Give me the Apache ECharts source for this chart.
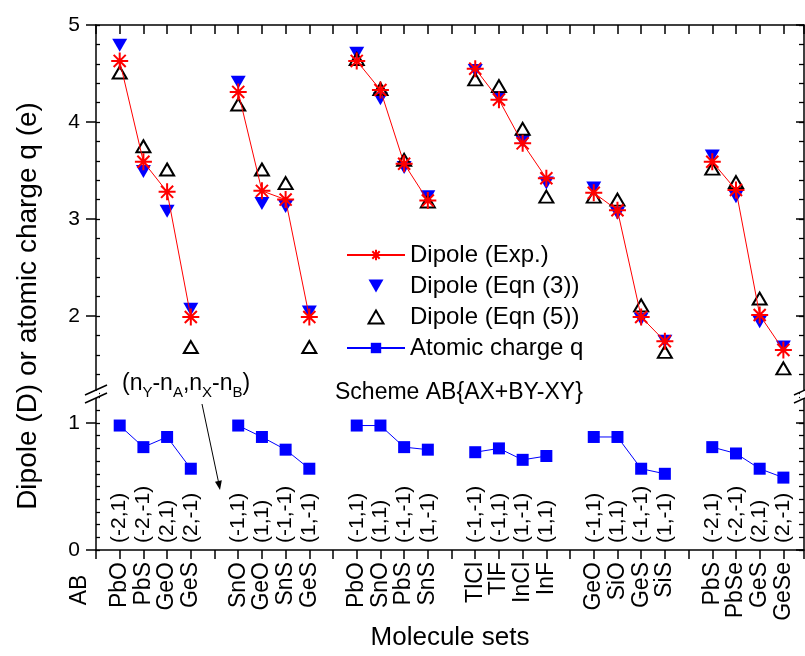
<!DOCTYPE html>
<html>
<head>
<meta charset="utf-8">
<title>Dipole and atomic charge</title>
<script src="https://cdn.jsdelivr.net/npm/echarts@6/dist/echarts.min.js"></script>
<style>
  html, body { margin: 0; padding: 0; background: #fff; }
  #chart { width: 805px; height: 656px; }
</style>
</head>
<body>
<div id="chart"></div>
<script>
// molecule sets, four molecules per set (one empty slot between sets)
const moleculeSets = [
  ['PbO', 'PbS', 'GeO', 'GeS'],
  ['SnO', 'GeO', 'SnS', 'GeS'],
  ['PbO', 'SnO', 'PbS', 'SnS'],
  ['TlCl', 'TlF', 'InCl', 'InF'],
  ['GeO', 'SiO', 'GeS', 'SiS'],
  ['PbS', 'PbSe', 'GeS', 'GeSe']
]
// (nY-nA, nX-nB)
const nLabels = [
  ['(-2,1)', '(-2,-1)', '(2,1)', '(2,-1)'],
  ['(-1,1)', '(1,1)', '(-1,-1)', '(1,-1)'],
  ['(-1,1)', '(1,1)', '(-1,-1)', '(1,-1)'],
  ['(-1,-1)', '(-1,1)', '(1,-1)', '(1,1)'],
  ['(-1,1)', '(1,1)', '(-1,-1)', '(1,-1)'],
  ['(-2,1)', '(-2,-1)', '(2,1)', '(2,-1)']
]
const dipoleExp = [
  [4.63, 3.59, 3.28, 1.99],
  [4.31, 3.29, 3.20, 1.99],
  [4.63, 4.33, 3.57, 3.19],
  [4.55, 4.23, 3.78, 3.42],
  [3.27, 3.09, 1.99, 1.74],
  [3.59, 3.30, 2.01, 1.65]
]
const dipoleEqn3 = [
  [4.79, 3.49, 3.08, 2.07],
  [4.41, 3.16, 3.13, 2.04],
  [4.71, 4.24, 3.53, 3.23],
  [4.53, 4.25, 3.80, 3.37],
  [3.32, 3.06, 1.97, 1.74],
  [3.65, 3.23, 1.94, 1.68]
]
const dipoleEqn5 = [
  [4.51, 3.75, 3.51, 1.68],
  [4.18, 3.51, 3.37, 1.68],
  [4.65, 4.34, 3.61, 3.18],
  [4.44, 4.37, 3.93, 3.23],
  [3.23, 3.20, 2.11, 1.63],
  [3.52, 3.38, 2.18, 1.46]
]
const atomicCharge = [
  [0.98, 0.81, 0.89, 0.64],
  [0.98, 0.89, 0.79, 0.64],
  [0.98, 0.98, 0.81, 0.79],
  [0.77, 0.80, 0.71, 0.74],
  [0.89, 0.89, 0.64, 0.60],
  [0.81, 0.76, 0.64, 0.57]
]
const upperMajorTicks = [2, 3, 4, 5]
const lowerMajorTicks = [0, 1]

const FONT = '"Liberation Sans", Arial, sans-serif'

// slot index on the x axis -> label
const slotNames = []
const slotN = []
moleculeSets.forEach((set, g) => {
  set.forEach((m, i) => {
    slotNames[g * 5 + 1 + i] = m
    slotN[g * 5 + 1 + i] = nLabels[g][i]
  })
})

// points per set, with a gap after each set so lines only join inside a set
function toPoints (values) {
  const pts = []
  values.forEach((set, g) => {
    set.forEach((v, i) => pts.push([g * 5 + 1 + i, v]))
    pts.push([g * 5 + 5, '-'])
  })
  return pts
}

const black = { color: '#000', width: 1.5 }
const xRange = { type: 'value', min: 0, max: 29.87, interval: 1, splitLine: { show: false } }

function minorAxis (grid, side, min, max, interval, len) {
  return {
    type: 'value', gridIndex: grid, position: side, min: min, max: max, interval: interval,
    axisLine: { show: true, lineStyle: black },
    axisTick: { show: true, inside: true, length: len, lineStyle: { color: '#000', width: 1.3 } },
    axisLabel: { show: false },
    splitLine: { show: false }
  }
}
function majorAxis (grid, side, min, max, ticks, showLabel) {
  return {
    type: 'value', gridIndex: grid, position: side, min: min, max: max,
    axisLine: { show: false },
    axisTick: { show: true, customValues: ticks, inside: side === 'right', length: side === 'right' ? 8 : 10, lineStyle: { color: '#000', width: 1.5 } },
    axisLabel: { show: showLabel, customValues: ticks, color: '#000', fontSize: 21, fontFamily: FONT, margin: 16 },
    splitLine: { show: false }
  }
}

const starPath = 'path://M0,-10L0,10M-10,0L10,0M-7.1,-7.1L7.1,7.1M-7.1,7.1L7.1,-7.1'
const downTriangle = 'path://M0,0L10,0L5,8.7Z'
const upTriangle = 'path://M5,0L10,8.7L0,8.7Z'

const chart = echarts.init(document.getElementById('chart'))
chart.setOption({
  animation: false,
  backgroundColor: '#fff',
  textStyle: { fontFamily: FONT },
  grid: [
    { left: 96, right: 1, top: 25, bottom: 262.4 },
    { left: 96, right: 1, top: 397.6, bottom: 106 }
  ],
  xAxis: [
    Object.assign({}, xRange, {
      gridIndex: 0, position: 'top',
      axisLine: { show: true, lineStyle: black },
      axisTick: { show: true, inside: true, length: 9, lineStyle: { color: '#000', width: 1.5 } },
      axisLabel: { show: false }
    }),
    Object.assign({}, xRange, {
      gridIndex: 1, position: 'bottom',
      axisLine: { show: true, lineStyle: black },
      axisTick: { show: true, inside: false, length: 9, lineStyle: { color: '#000', width: 1.5 } },
      axisLabel: {
        show: true, rotate: 90, margin: 12, color: '#000', fontSize: 23, fontFamily: FONT,
        formatter: v => slotNames[v] || ''
      },
      name: 'Molecule sets',
      nameLocation: 'middle',
      nameGap: 74,
      nameTextStyle: { color: '#000', fontSize: 26, fontFamily: FONT }
    }),
    Object.assign({}, xRange, {
      gridIndex: 1, position: 'bottom',
      axisLine: { show: false },
      axisTick: { show: false },
      axisLabel: {
        show: true, inside: true, rotate: 90, margin: 7, color: '#000', fontSize: 21, fontFamily: FONT,
        formatter: v => slotN[v] || ''
      }
    })
  ],
  yAxis: [
    minorAxis(0, 'left', 1.2, 5, 0.2, 4),
    majorAxis(0, 'left', 1.2, 5, upperMajorTicks, true),
    minorAxis(0, 'right', 1.2, 5, 0.2, 5),
    majorAxis(0, 'right', 1.2, 5, upperMajorTicks, false),
    minorAxis(1, 'left', 0, 1.2, 0.1, 4),
    majorAxis(1, 'left', 0, 1.2, lowerMajorTicks, true),
    minorAxis(1, 'right', 0, 1.2, 0.1, 5),
    majorAxis(1, 'right', 0, 1.2, lowerMajorTicks, false)
  ],
  legend: {
    orient: 'vertical',
    left: 346,
    top: 243,
    padding: 0,
    itemWidth: 58,
    itemHeight: 13,
    itemGap: 7,
    selectedMode: false,
    textStyle: { color: '#000', fontSize: 24, fontFamily: FONT, lineHeight: 24 },
    data: ['Dipole (Exp.)', 'Dipole (Eqn (3))', 'Dipole (Eqn (5))', 'Atomic charge q']
  },
  series: [
    {
      name: 'Dipole (Exp.)',
      type: 'line',
      xAxisIndex: 0,
      yAxisIndex: 0,
      data: toPoints(dipoleExp),
      symbol: starPath,
      symbolSize: 17,
      lineStyle: { color: '#ff0000', width: 1 },
      itemStyle: { color: 'rgba(255,0,0,0)', borderColor: '#ff0000', borderWidth: 2 }
    },
    {
      name: 'Dipole (Eqn (3))',
      type: 'scatter',
      xAxisIndex: 0,
      yAxisIndex: 0,
      data: toPoints(dipoleEqn3),
      symbol: downTriangle,
      symbolSize: [15, 13],
      itemStyle: { color: '#0000ff', opacity: 1 }
    },
    {
      name: 'Dipole (Eqn (5))',
      type: 'scatter',
      xAxisIndex: 0,
      yAxisIndex: 0,
      data: toPoints(dipoleEqn5),
      symbol: upTriangle,
      symbolSize: [14, 12],
      itemStyle: { color: 'rgba(255,255,255,0)', borderColor: '#000', borderWidth: 2, opacity: 1 }
    },
    {
      name: 'Atomic charge q',
      type: 'line',
      xAxisIndex: 1,
      yAxisIndex: 4,
      data: toPoints(atomicCharge),
      symbol: 'rect',
      symbolSize: 12,
      lineStyle: { color: '#0000ff', width: 1 },
      itemStyle: { color: '#0000ff' }
    }
  ],
  graphic: [
    {
      type: 'text', x: 28, y: 306, rotation: Math.PI / 2,
      style: { text: 'Dipole (D) or atomic charge q (e)', fill: '#000', font: '28px ' + FONT, align: 'center', verticalAlign: 'middle' }
    },
    {
      type: 'text', x: 80, y: 590, rotation: Math.PI / 2,
      style: { text: 'AB', fill: '#000', font: '23px ' + FONT, align: 'center', verticalAlign: 'middle' }
    },
    {
      type: 'text', x: 335, y: 393,
      style: { text: 'Scheme AB{AX+BY-XY}', fill: '#000', font: '23px ' + FONT, align: 'left', verticalAlign: 'middle' }
    },
    {
      type: 'text', x: 122, y: 384,
      style: {
        text: '(n{s|Y}-n{s|A},n{s|X}-n{s|B})',
        fill: '#000', fontSize: 23, fontFamily: FONT, lineHeight: 32,
        align: 'left', verticalAlign: 'middle',
        rich: { s: { fontSize: 15, fontFamily: FONT, lineHeight: 14, verticalAlign: 'bottom', fill: '#000' } }
      }
    },
    {
      type: 'line', shape: { x1: 202, y1: 404, x2: 218.5, y2: 482 },
      style: { stroke: '#000', lineWidth: 1 }
    },
    {
      type: 'polygon', shape: { points: [[220, 490], [221.8, 480.3], [215, 481.7]] },
      style: { fill: '#000' }
    },
    // axis break marks
    { type: 'rect', shape: { x: 93, y: 391, width: 6, height: 7 }, style: { fill: '#fff' }, z: 10 },
    { type: 'line', shape: { x1: 85, y1: 395, x2: 107, y2: 385 }, style: { stroke: '#000', lineWidth: 1.5 }, z: 11 },
    { type: 'line', shape: { x1: 85, y1: 403, x2: 107, y2: 393 }, style: { stroke: '#000', lineWidth: 1.5 }, z: 11 },
    { type: 'rect', shape: { x: 800, y: 391, width: 5, height: 7 }, style: { fill: '#fff' }, z: 10 },
    { type: 'line', shape: { x1: 794, y1: 395, x2: 816, y2: 385 }, style: { stroke: '#000', lineWidth: 1.5 }, z: 11 },
    { type: 'line', shape: { x1: 794, y1: 403, x2: 816, y2: 393 }, style: { stroke: '#000', lineWidth: 1.5 }, z: 11 }
  ]
})
</script>
</body>
</html>
